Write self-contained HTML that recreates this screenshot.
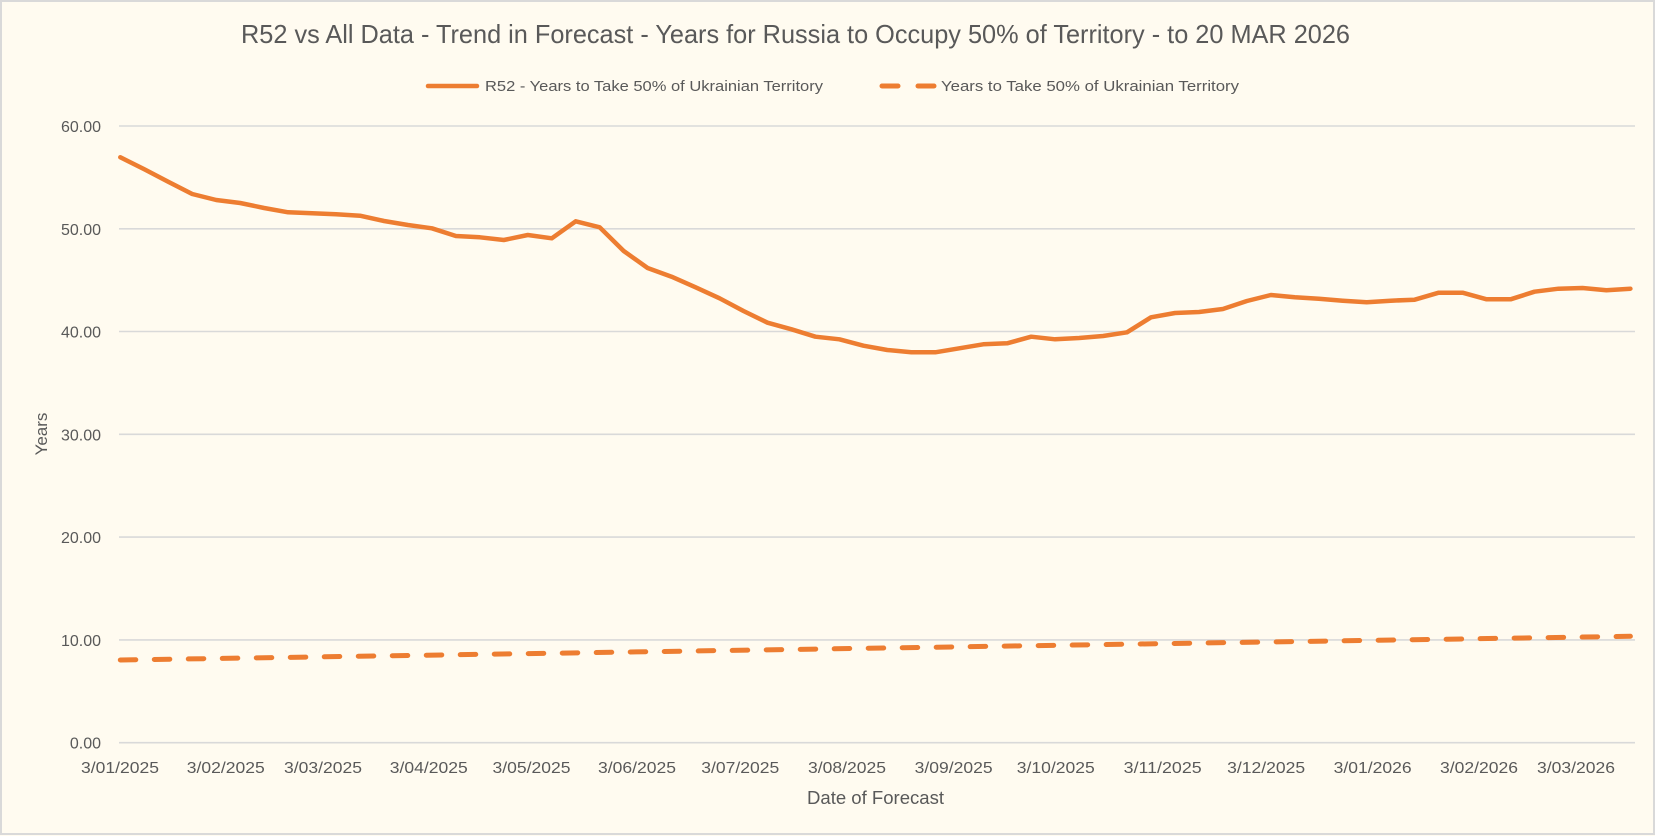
<!DOCTYPE html>
<html>
<head>
<meta charset="utf-8">
<style>
  html,body{margin:0;padding:0;background:#FFFBF0;}
  svg{display:block;}
  text{font-family:"Liberation Sans",sans-serif;fill:#595959;}
</style>
</head>
<body>
<svg width="1655" height="836" viewBox="0 0 1655 836" xmlns="http://www.w3.org/2000/svg">
  <rect x="0" y="0" width="1655" height="836" fill="#FFFBF0"/>
  <rect x="1" y="1" width="1653" height="833" fill="none" stroke="#D9D9D9" stroke-width="2"/>

  <!-- Title -->
  <text x="241" y="43" font-size="26" textLength="1109" lengthAdjust="spacingAndGlyphs">R52 vs All Data  - Trend in Forecast - Years for Russia to Occupy 50% of Territory - to 20 MAR 2026</text>

  <!-- Legend -->
  <line x1="428" y1="86" x2="477" y2="86" stroke="#ED7D31" stroke-width="4.5" stroke-linecap="round"/>
  <text x="485" y="91" font-size="15" textLength="338" lengthAdjust="spacingAndGlyphs">R52 - Years to Take  50% of Ukrainian Territory</text>
  <line x1="882" y1="86" x2="898" y2="86" stroke="#ED7D31" stroke-width="5" stroke-linecap="round"/>
  <line x1="918" y1="86" x2="934" y2="86" stroke="#ED7D31" stroke-width="5" stroke-linecap="round"/>
  <text x="941" y="91" font-size="15" textLength="298" lengthAdjust="spacingAndGlyphs">Years to Take  50% of Ukrainian Territory</text>

  <!-- Gridlines -->
  <g stroke="#D9D9D9" stroke-width="1.6">
    <line x1="119" y1="126" x2="1635" y2="126"/>
    <line x1="119" y1="228.8" x2="1635" y2="228.8"/>
    <line x1="119" y1="331.5" x2="1635" y2="331.5"/>
    <line x1="119" y1="434.3" x2="1635" y2="434.3"/>
    <line x1="119" y1="537.1" x2="1635" y2="537.1"/>
    <line x1="119" y1="639.9" x2="1635" y2="639.9"/>
    <line x1="119" y1="742.7" x2="1635" y2="742.7"/>
  </g>

  <!-- Y tick labels -->
  <g font-size="16" text-anchor="end">
    <text x="101" y="132">60.00</text>
    <text x="101" y="234.8">50.00</text>
    <text x="101" y="337.5">40.00</text>
    <text x="101" y="440.3">30.00</text>
    <text x="101" y="543.1">20.00</text>
    <text x="101" y="645.9">10.00</text>
    <text x="101" y="748.7">0.00</text>
  </g>

  <!-- X tick labels -->
  <g font-size="16" text-anchor="middle">
    <text x="120" y="773" textLength="78" lengthAdjust="spacingAndGlyphs">3/01/2025</text>
    <text x="225.8" y="773" textLength="78" lengthAdjust="spacingAndGlyphs">3/02/2025</text>
    <text x="323" y="773" textLength="78" lengthAdjust="spacingAndGlyphs">3/03/2025</text>
    <text x="428.8" y="773" textLength="78" lengthAdjust="spacingAndGlyphs">3/04/2025</text>
    <text x="531.5" y="773" textLength="78" lengthAdjust="spacingAndGlyphs">3/05/2025</text>
    <text x="637" y="773" textLength="78" lengthAdjust="spacingAndGlyphs">3/06/2025</text>
    <text x="740.3" y="773" textLength="78" lengthAdjust="spacingAndGlyphs">3/07/2025</text>
    <text x="847" y="773" textLength="78" lengthAdjust="spacingAndGlyphs">3/08/2025</text>
    <text x="953.6" y="773" textLength="78" lengthAdjust="spacingAndGlyphs">3/09/2025</text>
    <text x="1055.8" y="773" textLength="78" lengthAdjust="spacingAndGlyphs">3/10/2025</text>
    <text x="1162.7" y="773" textLength="78" lengthAdjust="spacingAndGlyphs">3/11/2025</text>
    <text x="1266.2" y="773" textLength="78" lengthAdjust="spacingAndGlyphs">3/12/2025</text>
    <text x="1372.6" y="773" textLength="78" lengthAdjust="spacingAndGlyphs">3/01/2026</text>
    <text x="1479" y="773" textLength="78" lengthAdjust="spacingAndGlyphs">3/02/2026</text>
    <text x="1576" y="773" textLength="78" lengthAdjust="spacingAndGlyphs">3/03/2026</text>
  </g>

  <!-- Axis titles -->
  <text x="807" y="804" font-size="18" textLength="137" lengthAdjust="spacingAndGlyphs">Date of Forecast</text>
  <text transform="translate(47,434) rotate(-90)" font-size="17" text-anchor="middle">Years</text>

  <!-- Dashed series -->
  <polyline fill="none" stroke="#ED7D31" stroke-width="5" stroke-linecap="round" stroke-linejoin="round" stroke-dasharray="15.5 18.5"
    points="120.3,660 1630.4,636.3"/>

  <!-- Solid series -->
  <polyline fill="none" stroke="#ED7D31" stroke-width="4.5" stroke-linecap="round" stroke-linejoin="round"
    points="120.3,157.3 144.3,169.3 168.2,181.7 192.2,194 216.2,200 240.2,203 264.1,208 288.1,212.3 312.1,213.3 336.0,214.3 360.0,215.7 384.0,221 407.9,225 431.9,228.3 455.9,236 479.9,237.3 503.8,240 527.8,235 551.8,238.3 575.7,221.3 599.7,227.3 623.7,251 647.6,268 671.6,276.7 695.6,287.3 719.6,298.3 743.5,311 767.5,322.7 791.5,329.3 815.4,336.7 839.4,339.3 863.4,345.7 887.3,350 911.3,352.3 935.3,352.3 959.3,348.3 983.2,344.3 1007.2,343.3 1031.2,336.7 1055.1,339.3 1079.1,338 1103.1,336 1127.0,332.3 1151.0,317.3 1175.0,313 1199.0,312 1222.9,309 1246.9,301 1270.9,295 1294.8,297.3 1318.8,298.7 1342.8,300.7 1366.7,302.3 1390.7,300.7 1414.7,299.7 1438.7,292.7 1462.6,292.7 1486.6,299.3 1510.6,299.3 1534.5,291.7 1558.5,288.7 1582.5,288 1606.4,290.3 1630.4,288.7"/>
</svg>
</body>
</html>
